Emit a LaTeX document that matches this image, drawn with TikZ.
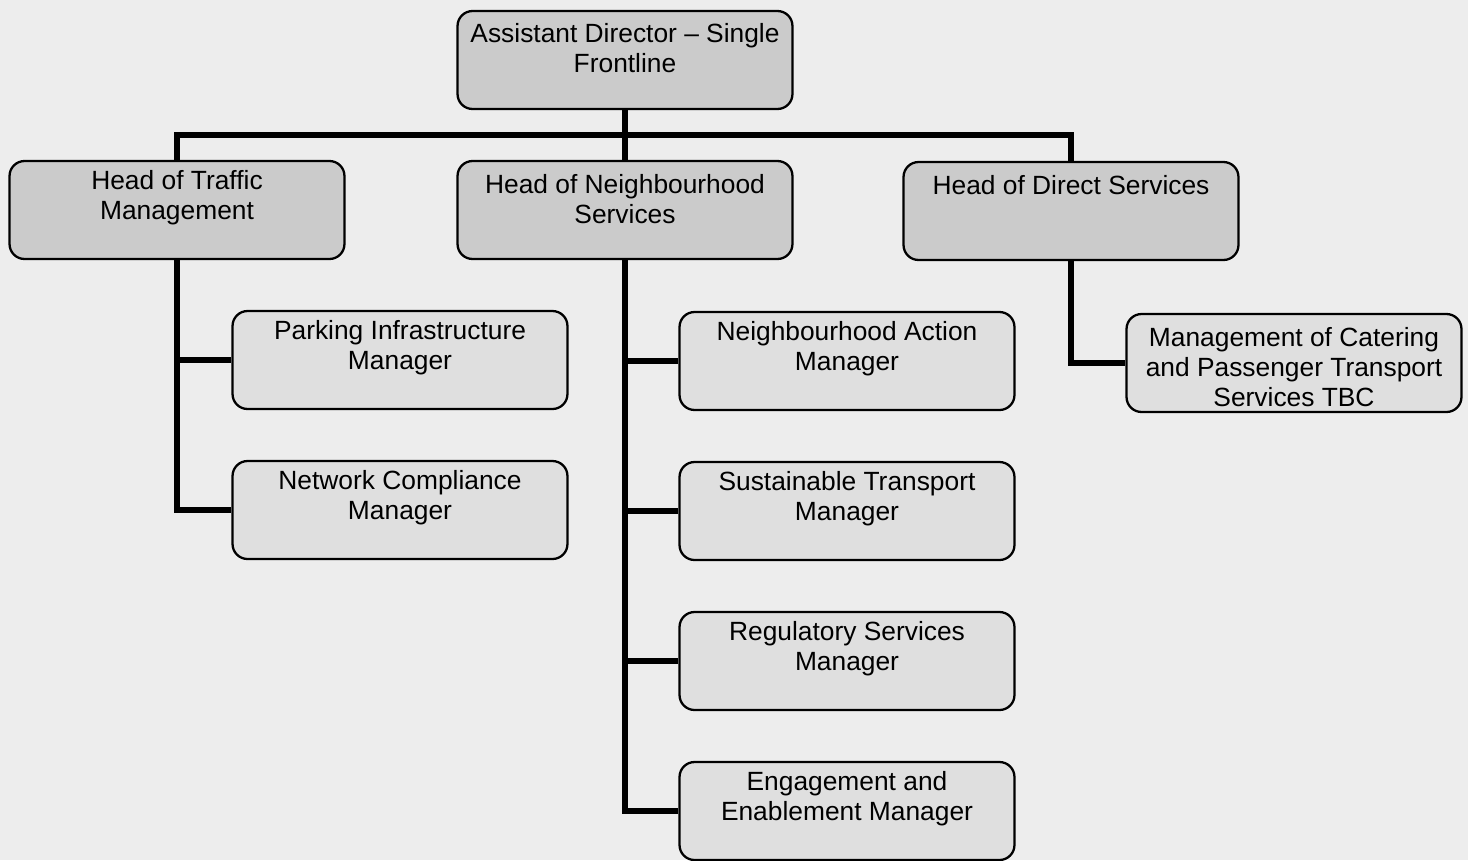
\documentclass[tikz,border=0pt]{standalone}
\usepackage{fontspec}
\setmainfont{Liberation Sans}
\usetikzlibrary{calc}
\definecolor{pagegray}{HTML}{EDEDED}
\definecolor{headgray}{HTML}{CBCBCB}
\definecolor{mgrgray}{HTML}{DFDFDF}
\tikzset{
  box/.style={draw, line width=1.3pt, rounded corners=0.3cm, minimum width=6.7cm, minimum height=1.96cm, inner sep=0pt},
  headbox/.style={box, fill=headgray},
  mgrbox/.style={box, fill=mgrgray},
  boxtext/.style={inner sep=0pt, align=center, font=\fontsize{15}{17}\selectfont},
  link/.style={line width=3.3pt}
}

\begin{document}
\begin{tikzpicture}[x=0.02cm, y=-0.02cm]
      \fill[pagegray] (0,0) rectangle (1468,860);
      \useasboundingbox (0,0) rectangle (1468,860);

      \node[headbox] (ad) at (625,60) {};
      \node[headbox] (tm) at (177,210) {};
      \node[headbox] (ns) at (625,210) {};
      \node[headbox] (ds) at (1071,211) {};

      \node[mgrbox] (pi) at (400,360) {};
      \node[mgrbox] (nc) at (400,510) {};
      \node[mgrbox] (na) at (847,361) {};
      \node[mgrbox] (st) at (847,511) {};
      \node[mgrbox] (rs) at (847,661) {};
      \node[mgrbox] (ee) at (847,811) {};
      \node[mgrbox] (ct) at (1294,363) {};

      \node[boxtext] (ad-t) at (625,48) {Assistant Director -- Single\\Frontline};
      \node[boxtext] (tm-t) at (177,198) {Head of Traffic\\Management};
      \node[boxtext] (ns-t) at (625,199) {Head of Neighbourhood\\Services};
      \node[boxtext] (ds-t) at (1071,185) {Head of Direct Services};
      \node[boxtext] (pi-t) at (400,348) {Parking Infrastructure\\Manager};
      \node[boxtext] (nc-t) at (400,498) {Network Compliance\\Manager};
      \node[boxtext] (na-t) at (847,349) {Neighbourhood Action\\Manager};
      \node[boxtext] (st-t) at (847,499) {Sustainable Transport\\Manager};
      \node[boxtext] (rs-t) at (847,649) {Regulatory Services\\Manager};
      \node[boxtext] (ee-t) at (847,799) {Engagement and\\Enablement Manager};
      \node[boxtext] (ct-t) at (1294,367) {Management of Catering\\and Passenger Transport\\Services TBC};

      \coordinate (bus) at (625,135);
      \draw[link] (ad) -- (bus);
      \draw[link] (tm.north) |- (bus) -| (ds.north);
      \draw[link] (bus) -- (ns.north);

      \draw[link] (tm.south) |- (nc.west);
      \draw[link] (tm.south |- pi.west) -- (pi.west);

      \draw[link] (ns.south) |- (ee.west);
      \draw[link] (ns.south |- na.west) -- (na.west);
      \draw[link] (ns.south |- st.west) -- (st.west);
      \draw[link] (ns.south |- rs.west) -- (rs.west);

      \draw[link] (ds.south) |- (ct.west);
\end{tikzpicture}
\end{document}
